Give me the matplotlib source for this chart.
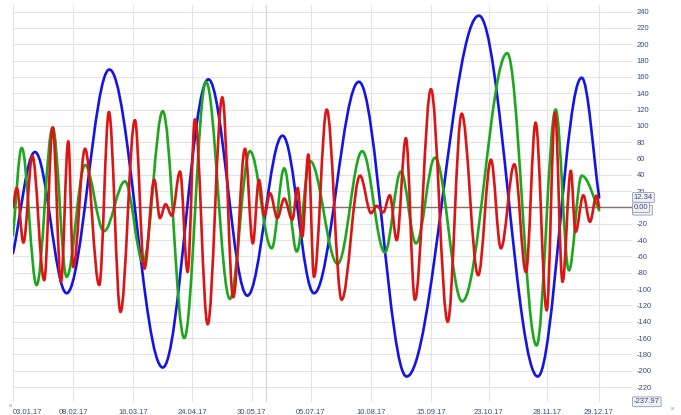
import matplotlib
matplotlib.use("Agg")
import matplotlib.pyplot as plt
from matplotlib.path import Path
from matplotlib.patches import PathPatch
from matplotlib.transforms import blended_transform_factory

# ---- data (bar index, value): extrema of each curve ----
blue_x = [0, 9.3, 22.7, 40.8, 63.4, 82.7, 99.2, 114.1, 127.4, 146.4, 166.6, 197.2, 222.1, 240.7, 248.1]
blue_y = [-56, 68, -105, 169, -196, 157, -108, 88, -105, 154, -207, 235, -207, 159, 12.34]

green_x = [0, 3.7, 10.0, 16.8, 22.7, 30.5, 38.5, 47.4, 55.1, 63.4, 72.5, 81.7, 91.8, 100.3,
           109.5, 114.8, 120.1, 125.7, 137.4, 147.8, 157.4, 164.2, 170.6, 178.6, 190.1,
           209.2, 221.6, 229.7, 235.3, 240.7, 248.1]
green_y = [-34, 73, -95, 98, -85, 52, -29, 32, -67, 118, -160, 154, -112, 69,
           -50, 48, -54, 57, -69, 69, -55, 44, -44, 61, -115,
           189, -169, 120, -77, 39, -3.33]

red_x = [0, 1.6, 4.4, 8.2, 13.2, 16.8, 20.3, 23.4, 25.5, 30.5, 36.5, 40.6, 45.5, 51.6,
         55.6, 59.8, 62.2, 64.6, 67.2, 70.7, 73.9, 77.0, 82.4, 88.6, 93.2, 98.2, 101.5,
         104.1, 106.4, 108.8, 111.9, 114.8, 118.2, 120.5, 122.4, 125.0, 127.4, 132.8,
         139.1, 146.9, 151.6, 153.9, 156.7, 159.5, 162.4, 166.3, 170.1, 176.9, 184.0,
         189.9, 196.9, 202.3, 206.5, 212.2, 217.1, 221.2, 225.9, 229.4, 232.6, 236.1,
         238.1, 241.4, 244.2, 247.0, 248.1]
red_y = [0, 24, -43, 63, -89, 98, -91, 81, -73, 72, -95, 117, -128, 107,
         -75, 34, -13, 4, -10, 44, -79, 108, -143, 135, -110, 72, -44,
         34, -10, 17.5, -13, 11, -15, 24, -36, 65, -85, 120,
         -113, 39, -7, 2, -6, 15, -40, 85, -113, 145, -140,
         115, -83, 58.5, -50, 53, -79, 104, -126, 116, -91, 45,
         -30, 15, -17.5, 14.5, 0.0]

tick_pos = [0, 25.4, 50.8, 75.8, 101.1, 126.1, 151.5, 176.9, 201.4, 226.0, 248.0]
tick_labels = ["03.01.17", "08.02.17", "16.03.17", "24.04.17", "30.05.17", "05.07.17",
               "10.08.17", "15.09.17", "23.10.17", "28.11.17", "29.12.17"]
extra_vline = 107.0
y_ticks = list(range(-220, 241, 20))
y_min, y_max = -237.97, 248.5
x_max = 262

last_values = [(-3.33, "-3.33"), (0.0, "0.00"), (12.34, "12.34")]

BLUE, GREEN, RED = "#1414e6", "#1fa61f", "#dc1414"
TXT = "#3b4a8c"
FONT = "Liberation Sans"


def smooth_path(xs, ys, k=0.36):
    verts = [(xs[0], ys[0])]
    codes = [Path.MOVETO]
    n = len(xs)
    for i in range(n - 1):
        x0, y0, x1, y1 = xs[i], ys[i], xs[i + 1], ys[i + 1]
        dx = x1 - x0
        if i == 0:
            c1 = (x0 + dx / 3, y0 + (y1 - y0) / 3)
        else:
            c1 = (x0 + k * dx, y0)
        if i == n - 2:
            c2 = (x1 - dx / 3, y1 - (y1 - y0) / 3)
        else:
            c2 = (x1 - k * dx, y1)
        verts += [c1, c2, (x1, y1)]
        codes += [Path.CURVE4] * 3
    return Path(verts, codes)


W, H = 681, 415
fig = plt.figure(figsize=(W / 100, H / 100), dpi=100)
fig.patch.set_facecolor("white")
ax = fig.add_axes([13 / W, 1 - 401.8 / H, (632 - 13) / W, 397.2 / H])
ax.set_xlim(0, x_max)
ax.set_ylim(y_min, y_max)
for s in ax.spines.values():
    s.set_visible(False)

# grid
for yv in y_ticks:
    ax.axhline(yv, color="#e4e4e4", lw=0.8, zorder=0)
for xv in tick_pos:
    ax.axvline(xv, color="#e4e4e4", lw=0.8, zorder=0)
ax.axvline(extra_vline, color="#d8d8d8", lw=0.9, zorder=0)
ax.axhline(0, color="#857070", lw=1.0, zorder=1)

for xs, ys, c in [(blue_x, blue_y, BLUE), (green_x, green_y, GREEN), (red_x, red_y, RED)]:
    p = PathPatch(smooth_path(xs, ys), fill=False, edgecolor=c, lw=1.9,
                  capstyle="round", joinstyle="round", zorder=3)
    ax.add_patch(p)

ax.set_xticks(tick_pos)
ax.set_xticklabels(tick_labels, fontsize=5.5, color=TXT, family=FONT)
ax.get_xticklabels()[0].set_horizontalalignment("left")
ax.yaxis.tick_right()
ax.set_yticks(y_ticks)
# the "0" label sits under the last-value boxes in the reference
ax.set_yticklabels(["" if v == 0 else str(v) for v in y_ticks], fontsize=5.5, color=TXT, family=FONT)
ax.tick_params(axis="x", length=0, pad=5)
ax.tick_params(axis="y", length=0, pad=3.5)

tr = blended_transform_factory(ax.transAxes, ax.transData)
box = dict(boxstyle="round,pad=0.18,rounding_size=0.15", fc="#eef0f4", ec="#9a9aa8", lw=0.6)
for v, s in last_values:
    ax.text(1.003, v, s, transform=tr, fontsize=5.5, color=TXT, family=FONT,
            va="center", ha="left", bbox=box, zorder=10, clip_on=False)
ax.text(1.003, y_min, "-237.97", transform=tr, fontsize=5.5, color=TXT, family=FONT,
        va="center", ha="left", bbox=box, zorder=10, clip_on=False)

fig.text(9 / W, 1 - 407 / H, "a", fontsize=4, color="#8890a8", family=FONT)
fig.text(671 / W, 1 - 410 / H, "a", fontsize=4, color="#8890a8", family=FONT)

fig.savefig("out.png", dpi=100, facecolor="white")
